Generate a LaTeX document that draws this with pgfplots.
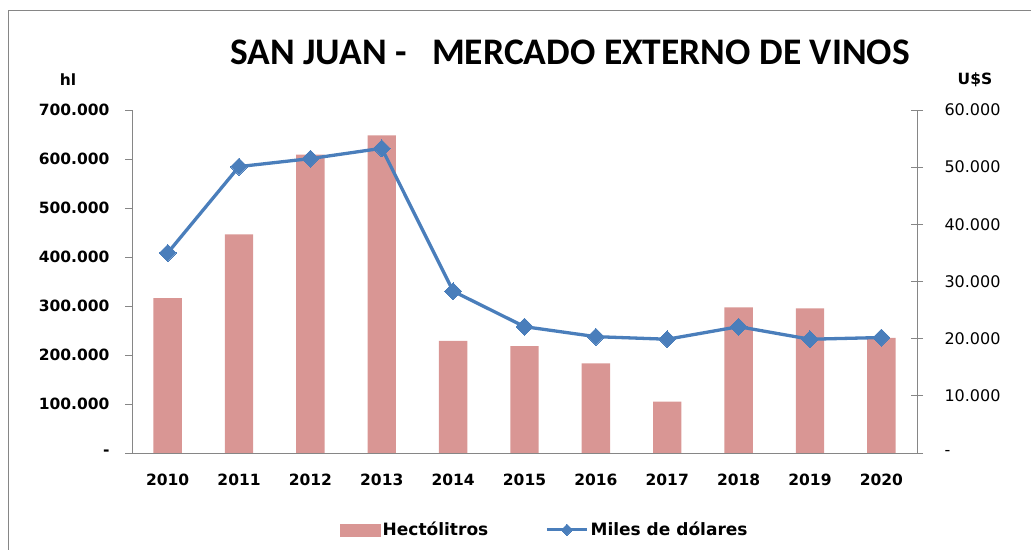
\documentclass[border=0pt]{standalone}
\usepackage{pgfplots}
\usepackage{pgfplotstable}
\pgfplotsset{compat=1.18}
\usepackage{fontspec}
\setmainfont{DejaVu Sans}
\newfontfamily\titlefont{Carlito}

\definecolor{barc}{RGB}{217,150,148}
\definecolor{linec}{RGB}{74,126,187}
\definecolor{axc}{RGB}{134,134,134}

\pgfplotsset{
    lineleg/.style={legend image code/.code={%
        \draw[mark repeat=2, mark phase=2, ##1, mark size=4pt]
            plot coordinates {(0pt,0pt) (20pt,0pt) (40pt,0pt)};}},
    barleg/.style={legend image code/.code={%
        \fill[barc] (0pt,-6pt) rectangle (40pt,6pt);}},
}

% year index, hectolitres, thousand dollars
\pgfplotstableread{
x hl usd
0 316000 35000
1 446000 50100
2 609000 51500
3 648000 53300
4 229000 28300
5 218000 22100
6 183000 20350
7 105000 19900
8 297000 22100
9 295000 19900
10 235000 20200
}\datos

\begin{document}
\begin{tikzpicture}
\useasboundingbox (0pt,0pt) rectangle (1031pt,549pt);
\draw[axc, line width=1.5pt] (8.5pt,-5pt) -- (8.5pt,538.5pt) -- (1040pt,538.5pt);

\begin{axis}[
    at={(132pt,96pt)}, anchor=south west,
    scale only axis, width=785pt, height=343pt,
    xmin=-0.5, xmax=10.5, ymin=0, ymax=700000,
    axis x line*=bottom, axis y line*=left,
    axis line style={axc, line width=0.8pt},
    xtick={0,...,10},
    xticklabels={2010,2011,2012,2013,2014,2015,2016,2017,2018,2019,2020},
    x tick label style={font=\bfseries\fontsize{15.5}{18}\selectfont, yshift=-10pt},
    major x tick style={draw=none},
    extra x ticks={-0.5,0.5,...,10.5},
    extra x tick labels={},
    extra x tick style={tick align=outside, major tick length=6pt, tick style={axc, line width=0.8pt}},
    ytick={0,100000,...,700000},
    yticklabels={-,100.000,200.000,300.000,400.000,500.000,600.000,700.000},
    y tick label style={font=\bfseries\fontsize{15.5}{18}\selectfont, xshift=-12pt},
    tick align=outside, major tick length=7pt,
    y tick style={axc, line width=0.8pt},
    scaled y ticks=false,
    ybar, bar width=28.4pt,
    clip=false,
]
\addplot[fill=barc, draw=none] table[x=x, y=hl] {\datos};
\end{axis}

\begin{axis}[
    at={(132pt,96pt)}, anchor=south west,
    scale only axis, width=785pt, height=343pt,
    xmin=-0.5, xmax=10.5, ymin=0, ymax=60000,
    axis x line=none, axis y line*=right,
    axis line style={axc, line width=0.8pt},
    ytick={0,10000,...,60000},
    yticklabels={-,10.000,20.000,30.000,40.000,50.000,60.000},
    y tick label style={font=\fontsize{16}{19}\selectfont, xshift=18pt},
    tick align=center, major tick length=12pt,
    y tick style={axc, line width=0.8pt},
    scaled y ticks=false,
    clip=false,
    legend columns=2,
    legend style={at={(0.526,-0.224)}, anchor=center, draw=none,
        font=\bfseries\fontsize{17}{20}\selectfont,
        /tikz/every even column/.append style={column sep=55pt}},
]
\addlegendimage{barleg}
\addlegendentry{Hectólitros}
\addplot[linec, line width=3.3pt, mark=square*, mark size=6pt,
    mark options={rotate=45, line width=0pt, fill=linec}, lineleg]
    table[x=x, y=usd] {\datos};
\addlegendentry{Miles de dólares}
\end{axis}

\node[font=\titlefont\bfseries\fontsize{37.5}{42}\selectfont] at (570pt,497pt) {SAN JUAN -\ \ \ MERCADO EXTERNO DE VINOS};
\node[font=\bfseries\fontsize{15.5}{18}\selectfont] at (68pt,469pt) {hl};
\node[font=\bfseries\fontsize{15.5}{18}\selectfont] at (975pt,469pt) {U\$S};
\end{tikzpicture}
\end{document}
